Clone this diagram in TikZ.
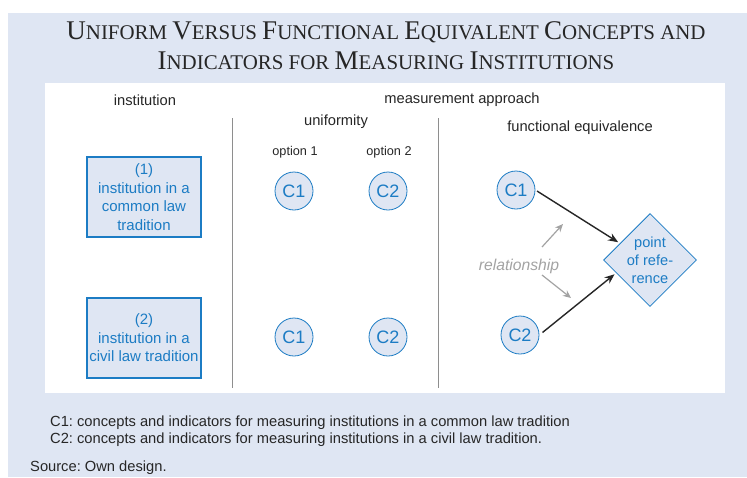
\documentclass[tikz,border=0pt]{standalone}
\usepackage{fontspec}
\setmainfont{Liberation Sans}
\newfontfamily\titlefont{Liberation Serif}
\usetikzlibrary{shapes.geometric,arrows.meta,positioning}

\definecolor{bgblue}{HTML}{DFE6F3}
\definecolor{lineblue}{HTML}{1C7CC4}
\definecolor{sepgray}{HTML}{8E8E8E}
\definecolor{relgray}{HTML}{A3A3A3}
\definecolor{txtgray}{HTML}{262626}

% fake small caps for the title
\newcommand{\bigsc}[1]{{\fontsize{27}{27}\selectfont #1}}
\newcommand{\smsc}[1]{{\fontsize{20.9}{20.9}\selectfont #1}}
\frenchspacing

\tikzset{
  titletext/.style={text=txtgray, font=\titlefont\fontsize{20.9}{20.9}\selectfont},
  instbox/.style={draw=lineblue, fill=bgblue, text=lineblue, line width=1.3pt,
    minimum width=114pt, minimum height=80pt, align=center, inner sep=1pt,
    font=\fontsize{15}{18.5}\selectfont},
  cnode/.style={circle, draw=lineblue, fill=bgblue, text=lineblue, line width=0.8pt,
    minimum size=38pt, inner sep=0pt, font=\fontsize{18}{18}\selectfont},
  refnode/.style={diamond, draw=lineblue, fill=bgblue, text=lineblue, line width=0.8pt,
    minimum width=90pt, minimum height=86pt, inner sep=0pt, align=center,
    font=\fontsize{14.6}{18}\selectfont},
  headlabel/.style={text=txtgray, font=\fontsize{14.7}{16}\selectfont},
  optlabel/.style={text=txtgray, font=\fontsize{12.7}{14}\selectfont},
  legendtxt/.style={text=txtgray, anchor=west, inner sep=0pt, font=\fontsize{14.7}{16}\selectfont},
  refarrow/.style={-{Stealth[length=10pt,width=8pt]}, line width=1.4pt, black!85},
  relarrow/.style={-{Stealth[length=8pt,width=7pt]}, line width=1.2pt, relgray}
}

\begin{document}
\begin{tikzpicture}[x=1pt,y=-1pt]
    \useasboundingbox (0,0) rectangle (747,477);
    % Background
    \fill[white] (0,0) rectangle (747,477);
    \fill[bgblue] (8,13) rectangle (747,477);
    \fill[white] (45,83) rectangle (725,393);

    % Title
    \node[titletext] (title1) at (386,32)
      {\bigsc{U}\smsc{NIFORM} \bigsc{V}\smsc{ERSUS} \bigsc{F}\smsc{UNCTIONAL} \bigsc{E}\smsc{QUIVALENT} \bigsc{C}\smsc{ONCEPTS AND}};
    \node[titletext] (title2) at (386,61)
      {\bigsc{I}\smsc{NDICATORS FOR} \bigsc{M}\smsc{EASURING} \bigsc{I}\smsc{NSTITUTIONS}};

    % Column heads
    \node[headlabel] (insthead) at (145,100) {institution};
    \node[headlabel] (meashead) at (462,100) {measurement approach};
    \node[headlabel] (unihead) at (336,122) {uniformity};
    \node[headlabel] (funhead) at (580,128) {functional equivalence};
    \node[optlabel] (opt1) at (295,152) {option 1};
    \node[optlabel] (opt2) at (389,152) {option 2};

    % Separators
    \draw[sepgray, line width=0.8pt] (232,118) -- (232,388);
    \draw[sepgray, line width=0.8pt] (438,118) -- (438,388);

    % Institutions
    \node[instbox] (inst1) at (144,197) {(1)\\institution in a\\common law\\tradition};
    \node[instbox] (inst2) at (144,338) {(2)\\institution in a\\civil law tradition};

    % Uniformity
    \node[cnode] (c1a) at (294,191) {C1};
    \node[cnode] (c2a) at (388,191) {C2};
    \node[cnode] (c1b) at (294,337) {C1};
    \node[cnode] (c2b) at (388,337) {C2};

    % Functional equivalence
    \node[cnode] (c1r) at (516,190) {C1};
    \node[cnode] (c2r) at (520,335) {C2};
    \node[refnode] (ref) at (650,260) {point\\of refe-\\rence};
    \draw[refarrow, shorten <=2pt, shorten >=2pt] (c1r.east) -- (ref.151);
    \draw[refarrow, shorten <=4pt, shorten >=2pt] (c2r.east) -- (ref.201);

    \node[relgray, font=\fontsize{15.7}{17}\selectfont\itshape] (rel) at (519,266) {relationship};
    \coordinate (relup) at (542,247);
    \coordinate (relupend) at (563,224);
    \coordinate (reldown) at (542,275);
    \coordinate (reldownend) at (571,298);
    \draw[relarrow] (relup) -- (relupend);
    \draw[relarrow] (reldown) -- (reldownend);

    % Legend
    \node[legendtxt] (leg1) at (50,423) {C1: concepts and indicators for measuring institutions in a common law tradition};
    \node[legendtxt] (leg2) at (50,440) {C2: concepts and indicators for measuring institutions in a civil law tradition.};
    \node[legendtxt] (source) at (30,468) {Source: Own design.};
\end{tikzpicture}
\end{document}
